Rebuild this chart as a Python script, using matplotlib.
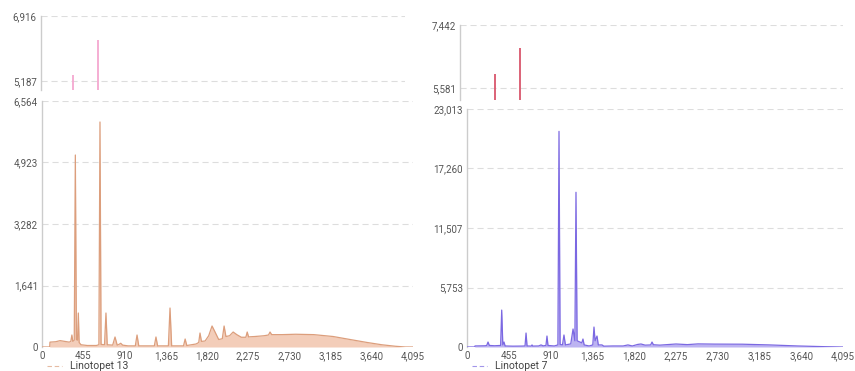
import matplotlib.pyplot as plt
from matplotlib.lines import Line2D
from matplotlib.ticker import FuncFormatter

plt.rcParams['font.family'] = ['Roboto', 'DejaVu Sans']

# spectrum of Linotopet 13 (channel, counts)
ch13 = [0, 85, 88, 150, 200, 250, 300, 318, 330, 340, 356, 368, 380, 392, 401, 410,
        430, 500, 600, 628, 640, 652, 690, 706, 720, 780, 806, 830, 850, 869, 890,
        950, 1030, 1049, 1068, 1150, 1240, 1258, 1276, 1395, 1413, 1431, 1500, 1562,
        1580, 1598, 1700, 1730, 1744, 1760, 1800, 1840, 1877, 1910, 1950, 1990, 2010,
        2030, 2070, 2110, 2150, 2200, 2250, 2265, 2280, 2350, 2450, 2500, 2517, 2535,
        2650, 2800, 3000, 3213, 3400, 3590, 3750, 3900, 4010, 4095]
cnt13 = [0, 0, 130, 140, 170, 150, 130, 150, 320, 150, 180, 5123, 200, 180, 907, 120,
         60, 40, 40, 60, 6004, 70, 60, 907, 60, 50, 267, 50, 70, 100, 50,
         30, 30, 320, 30, 30, 30, 267, 30, 30, 1040, 30, 30, 30,
         213, 40, 80, 120, 373, 150, 160, 300, 560, 400, 200, 220, 560,
         280, 300, 400, 330, 260, 260, 400, 270, 280, 300, 320, 400, 330,
         330, 340, 330, 280, 200, 120, 60, 20, 0, 0]

# spectrum of Linotopet 7 (channel, counts)
ch7 = [0, 84, 87, 150, 200, 215, 229, 243, 300, 366, 378, 390, 403, 415, 500, 600,
       632, 643, 654, 700, 708, 716, 780, 806, 830, 860, 871, 882, 950, 990, 1002,
       1014, 1040, 1056, 1072, 1130, 1155, 1175, 1187, 1199, 1230, 1250, 1263, 1276,
       1330, 1370, 1383, 1395, 1416, 1430, 1470, 1490, 1590, 1700, 1753, 1800, 1860,
       1895, 1940, 2000, 2015, 2030, 2100, 2276, 2400, 2515, 2700, 3000, 3300, 3600,
       3900, 4080, 4095]
cnt7 = [0, 0, 100, 110, 120, 150, 480, 150, 120, 150, 3570, 200, 480, 100, 80, 90,
        100, 1350, 100, 90, 200, 90, 100, 200, 110, 150, 1060, 150, 100, 200, 20850,
        250, 200, 1160, 200, 300, 1740, 600, 14960, 600, 480, 400, 770, 200,
        100, 200, 1930, 600, 1060, 200, 200, 80, 100, 100, 200, 100, 250,
        290, 180, 200, 480, 220, 180, 290, 230, 300, 280, 270, 200, 100,
        30, 0, 0]

# upper strips: channel and top value of the clipped lines
top13_ch = [365, 640]
top13_val = [5347, 6278]
top7_ch = [378, 643]
top7_val = [5994, 6763]

xticks = [0, 455, 910, 1365, 1820, 2275, 2730, 3185, 3640, 4095]
yticks13 = [0, 1641, 3282, 4923, 6564]
yticks7 = [0, 5753, 11507, 17260, 23013]
top13_ticks = [5187, 6916]
top7_ticks = [5581, 7442]

W, H = 855, 371
comma = FuncFormatter(lambda v, p: f"{int(round(v)):,}")
tick_color = '#555555'
grid_color = '#dddddd'


def box(x0, x1, ytop, ybot):
    return [x0 / W, 1 - ybot / H, (x1 - x0) / W, (ybot - ytop) / H]


def style(ax):
    for s in ['top', 'right', 'bottom']:
        ax.spines[s].set_visible(False)
    ax.spines['left'].set_color('#cccccc')
    ax.spines['left'].set_linewidth(1.0)
    ax.tick_params(length=0, labelsize=7, colors=tick_color, pad=3)
    ax.yaxis.set_major_formatter(comma)
    ax.grid(axis='y', color=grid_color, linestyle=(0, (5.5, 3.5)), linewidth=0.8)
    ax.set_axisbelow(True)


fig = plt.figure(figsize=(W / 100, H / 100), dpi=100)

panels = [
    dict(ch=ch13, cnt=cnt13, top_ch=top13_ch, top_val=top13_val, yt=yticks13,
         tt=top13_ticks, tlo=4948, line='#dc9e7c', fill='#f3cdb9', spike='#f5a8d0',
         top_box=box(41, 405, 16, 90), main_box=box(42, 413, 101, 347),
         leg_x=47, name='Linotopet 13'),
    dict(ch=ch7, cnt=cnt7, top_ch=top7_ch, top_val=top7_val, yt=yticks7,
         tt=top7_ticks, tlo=5227, line='#7b68e2', fill='#bcb3f1', spike='#d9566c',
         top_box=box(460, 843, 25, 100), main_box=box(467, 843, 109, 347),
         leg_x=472, name='Linotopet 7'),
]

for p in panels:
    ax_top = fig.add_axes(p['top_box'])
    style(ax_top)
    ax_top.vlines(p['top_ch'], p['tlo'], p['top_val'], color=p['spike'], linewidth=1.3)
    ax_top.set_xlim(0, 4095)
    ax_top.set_ylim(p['tlo'], p['tt'][1])
    ax_top.set_yticks(p['tt'])
    ax_top.set_xticks([])

    ax = fig.add_axes(p['main_box'])
    style(ax)
    ax.fill_between(p['ch'], 0, p['cnt'], color=p['fill'], linewidth=0, zorder=2)
    ax.plot(p['ch'], p['cnt'], color=p['line'], linewidth=0.9, zorder=3)
    ax.set_xlim(0, 4095)
    ax.set_ylim(0, p['yt'][-1])
    ax.set_yticks(p['yt'])
    ax.set_xticks(xticks)
    ax.xaxis.set_major_formatter(comma)

    ly = 1 - 366 / H
    fig.add_artist(Line2D([p['leg_x'] / W, (p['leg_x'] + 15) / W], [ly, ly],
                          transform=fig.transFigure, color=p['line'],
                          linestyle=(0, (4, 2.5)), linewidth=0.8, alpha=0.7))
    fig.text((p['leg_x'] + 23) / W, ly, p['name'], fontsize=7.5, color='#444444',
             va='center', ha='left')

fig.savefig('out.png', dpi=100)
